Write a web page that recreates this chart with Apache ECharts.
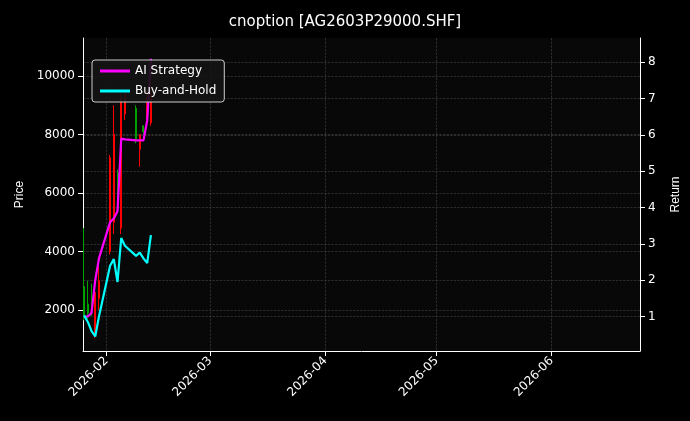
<!DOCTYPE html>
<html><head><meta charset="utf-8">
<script src="https://cdn.jsdelivr.net/npm/echarts@6/dist/echarts.min.js"></script>
<style>html,body{margin:0;background:#000}#c{width:690px;height:421px}</style>
</head><body><div id="c"></div>
<script>
const dates = ['2026-01-26','2026-01-27','2026-01-28','2026-01-29','2026-01-30','2026-02-02','2026-02-03','2026-02-04','2026-02-05','2026-02-06','2026-02-09','2026-02-10','2026-02-11','2026-02-12','2026-02-13'];
const opens  = [1800,1900,2100,2600,3000,7200,8000,5800,9200,9400,7800,8000,8100,9000,9400];
const closes = [2800,2200,2300,1300,2400,4000,5000,6700,4800,8700,8900,7500,8300,8500,8400];
const lows   = [1650,1700,1800,1040,2000,3900,4600,5700,4600,8500,7700,6900,8000,8300,8300];
const highs  = [4800,3000,2900,2800,3500,7300,9000,6800,9500,9500,9000,8000,8300,9500,10400];
const aiReturn  = [1.0,1.0,1.1,2.0,2.6,3.6,3.7,3.9,5.9,5.88,5.85,5.85,5.85,6.4,8.1];
const bhReturn  = [1.03,0.85,0.6,0.45,1.0,2.4,2.58,1.95,3.16,2.95,2.67,2.76,2.6,2.47,3.24];
const priceTicks = [2000,4000,6000,8000,10000];
const returnTicks = [1,2,3,4,5,6,7,8];
const monthTicks = ['2026-02-01','2026-03-01','2026-04-01','2026-05-01','2026-06-01'];

const DAY = 86400000;
const t = d => Date.UTC(+d.slice(0,4), +d.slice(5,7)-1, +d.slice(8,10));
const grid = {lineStyle:{color:'#444',type:'dashed',width:0.6}};
const chart = echarts.init(document.getElementById('c'));
chart.setOption({
  backgroundColor:'#000',
  animation:false,
  title:{text:'cnoption [AG2603P29000.SHF]',left:'center',top:10,textStyle:{color:'#fff',fontSize:15,fontWeight:'normal',fontFamily:'DejaVu Sans'}},
  legend:{left:92,top:60,orient:'vertical',itemWidth:30,itemHeight:3,itemGap:8,padding:[5,8],
    borderColor:'#ccc',borderWidth:1,borderRadius:3,backgroundColor:'rgba(20,20,20,0.9)',
    textStyle:{color:'#fff',fontSize:12,fontFamily:'DejaVu Sans'},
    data:[{name:'AI Strategy',icon:'rect'},{name:'Buy-and-Hold',icon:'rect'}]},
  grid:{left:83,right:49,top:38,bottom:70,show:true,backgroundColor:'#080808',borderWidth:0},
  xAxis:{type:'value',min:t('2026-01-26')-0.3*DAY,max:t('2026-06-24')+0.8*DAY,
    axisLine:{lineStyle:{color:'#fff'}},
    axisTick:{show:true,customValues:monthTicks.map(t),lineStyle:{color:'#fff'}},
    axisLabel:{customValues:monthTicks.map(t),rotate:45,color:'#fff',fontSize:12,fontFamily:'DejaVu Sans',
      formatter:v=>{const d=new Date(v);return d.getUTCFullYear()+'-'+String(d.getUTCMonth()+1).padStart(2,'0');}},
    splitLine:{show:true,...grid}},
  yAxis:[
    {type:'value',min:600,max:11300,name:'Price',nameLocation:'middle',nameGap:55,nameTextStyle:{color:'#fff',fontSize:12},
     axisLine:{show:true,lineStyle:{color:'#fff'}},
     axisTick:{show:true,customValues:priceTicks},
     axisLabel:{customValues:priceTicks,color:'#fff',fontSize:12,fontFamily:'DejaVu Sans',formatter:v=>String(v)},
     splitLine:{show:true,...grid}},
    {type:'value',min:0.05,max:8.67,name:'Return',nameLocation:'middle',nameGap:30,nameTextStyle:{color:'#fff',fontSize:12},
     axisLine:{show:true,lineStyle:{color:'#fff'}},
     axisTick:{show:true,customValues:returnTicks},
     axisLabel:{customValues:returnTicks,color:'#fff',fontSize:12,fontFamily:'DejaVu Sans'},
     splitLine:{show:true,...grid}}
  ],
  series:[
    {type:'candlestick',name:'Price',yAxisIndex:0,barWidth:1.5,
     itemStyle:{color:'#00a000',color0:'#ff0000',borderColor:'#00a000',borderColor0:'#ff0000',borderWidth:1},
     data:dates.map((d,i)=>[t(d),opens[i],closes[i],lows[i],highs[i]])},
    {type:'line',name:'AI Strategy',yAxisIndex:1,showSymbol:false,lineStyle:{color:'#ff00ff',width:2.2},itemStyle:{color:'#ff00ff'},
     data:dates.map((d,i)=>[t(d),aiReturn[i]])},
    {type:'line',name:'Buy-and-Hold',yAxisIndex:1,showSymbol:false,lineStyle:{color:'#00ffff',width:2.2},itemStyle:{color:'#00ffff'},
     data:dates.map((d,i)=>[t(d),bhReturn[i]])}
  ]
});
</script></body></html>
